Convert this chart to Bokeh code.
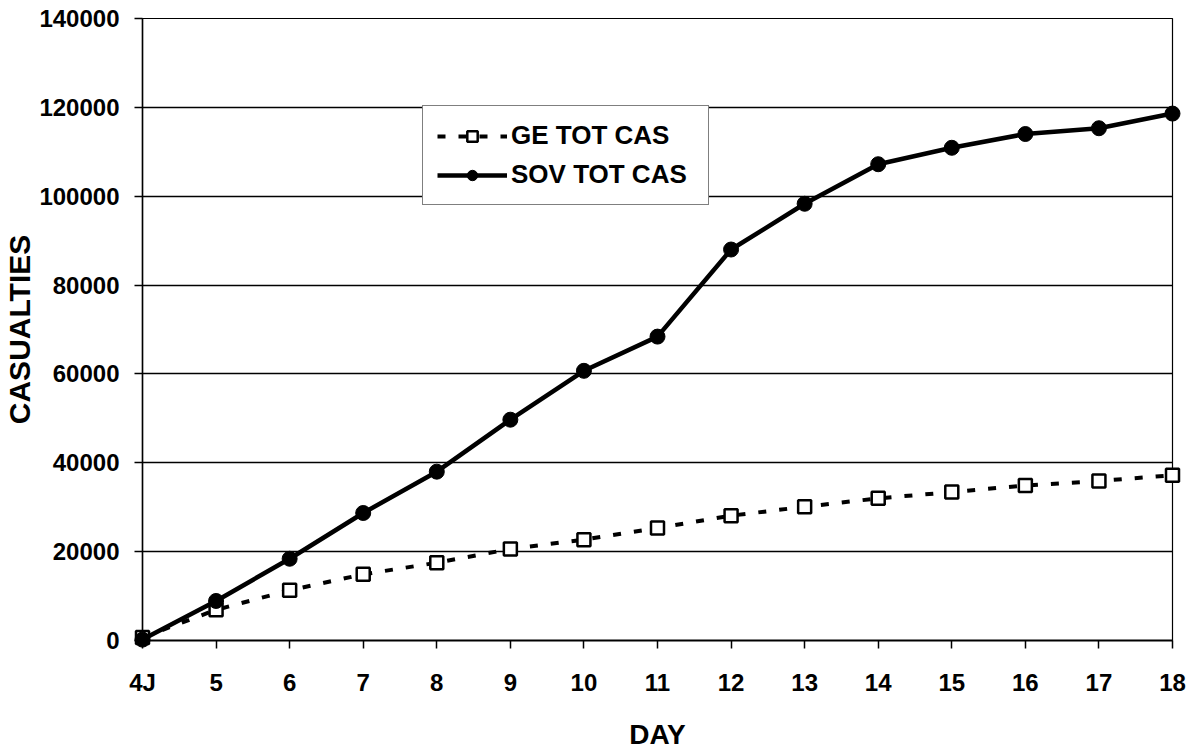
from bokeh.plotting import figure
from bokeh.models import Range1d, FixedTicker, NumeralTickFormatter, Legend, LegendItem
from bokeh.embed import file_html
from bokeh.resources import INLINE

day = [4, 5, 6, 7, 8, 9, 10, 11, 12, 13, 14, 15, 16, 17, 18]
day_labels = ["4J", "5", "6", "7", "8", "9", "10", "11", "12", "13", "14", "15", "16", "17", "18"]
ge_tot_cas = [700, 6900, 11300, 14900, 17500, 20600, 22700, 25300, 28100, 30100,
              32000, 33400, 34900, 35900, 37200]
sov_tot_cas = [200, 8900, 18400, 28700, 38000, 49700, 60700, 68400, 88000, 98300,
               107200, 110900, 114000, 115300, 118600]
y_ticks = [0, 20000, 40000, 60000, 80000, 100000, 120000, 140000]

FONT = "Liberation Sans"

p = figure(width=1186, height=752, output_backend="svg", toolbar_location=None,
           x_range=Range1d(4, 18), y_range=Range1d(0, 140000),
           min_border_left=142, min_border_right=14, min_border_top=18, min_border_bottom=112)

p.background_fill_color = "white"
p.border_fill_color = "white"
p.outline_line_color = "black"
p.outline_line_width = 1.2

p.xgrid.visible = False
p.ygrid.ticker = FixedTicker(ticks=y_ticks)
p.ygrid.grid_line_color = "black"
p.ygrid.grid_line_width = 1.3

# x axis
p.xaxis.ticker = FixedTicker(ticks=day)
p.xaxis.major_label_overrides = {d: lbl for d, lbl in zip(day, day_labels)}
p.xaxis.axis_label = "DAY"
p.xaxis.axis_label_text_font = FONT
p.xaxis.axis_label_text_font_style = "bold"
p.xaxis.axis_label_text_font_size = "28px"
p.xaxis.axis_label_text_color = "black"
p.xaxis.axis_label_standoff = 20
p.xaxis.major_label_text_font = FONT
p.xaxis.major_label_text_font_style = "bold"
p.xaxis.major_label_text_font_size = "24px"
p.xaxis.major_label_text_color = "black"
p.xaxis.major_label_standoff = 20
p.xaxis.axis_line_color = "black"
p.xaxis.axis_line_width = 2
p.xaxis.major_tick_line_color = "black"
p.xaxis.major_tick_line_width = 1.5
p.xaxis.major_tick_out = 8
p.xaxis.major_tick_in = 0
p.xaxis.minor_tick_line_color = None

# y axis
p.yaxis.ticker = FixedTicker(ticks=y_ticks)
p.yaxis.formatter = NumeralTickFormatter(format="0")
p.yaxis.axis_label = "CASUALTIES"
p.yaxis.axis_label_text_font = FONT
p.yaxis.axis_label_text_font_style = "bold"
p.yaxis.axis_label_text_font_size = "30px"
p.yaxis.axis_label_text_color = "black"
p.yaxis.axis_label_standoff = 0
p.yaxis.major_label_text_font = FONT
p.yaxis.major_label_text_font_style = "bold"
p.yaxis.major_label_text_font_size = "24px"
p.yaxis.major_label_text_color = "black"
p.yaxis.major_label_standoff = 15
p.yaxis.axis_line_color = "black"
p.yaxis.axis_line_width = 1.5
p.yaxis.major_tick_line_color = "black"
p.yaxis.major_tick_line_width = 1.5
p.yaxis.major_tick_out = 8
p.yaxis.major_tick_in = 0
p.yaxis.minor_tick_line_color = None

ge_line = p.line(day, ge_tot_cas, line_color="black", line_width=4, line_dash="8 13", level="overlay")
ge_sc = p.scatter(day, ge_tot_cas, marker="square", size=13, fill_color="white",
                  line_color="black", line_width=2.5, level="overlay")
sov_line = p.line(day, sov_tot_cas, line_color="black", line_width=4.5, level="overlay")
sov_sc = p.scatter(day, sov_tot_cas, marker="circle", size=15, fill_color="black",
                   line_color="black", line_width=1, level="overlay")

legend = Legend(items=[LegendItem(label="GE TOT CAS", renderers=[ge_line, ge_sc]),
                       LegendItem(label="SOV TOT CAS", renderers=[sov_line, sov_sc])],
                location=(280, 435))
legend.label_text_font = FONT
legend.label_text_font_style = "bold"
legend.label_text_font_size = "26px"
legend.label_text_color = "black"
legend.glyph_width = 70
legend.glyph_height = 26
legend.label_height = 26
legend.label_width = 183
legend.spacing = 8
legend.padding = 14
legend.margin = 0
legend.label_standoff = 4
legend.border_line_color = "black"
legend.border_line_width = 1.2
legend.background_fill_color = "white"
legend.background_fill_alpha = 1
p.add_layout(legend)

open("out.html", "w").write(file_html(p, INLINE))
